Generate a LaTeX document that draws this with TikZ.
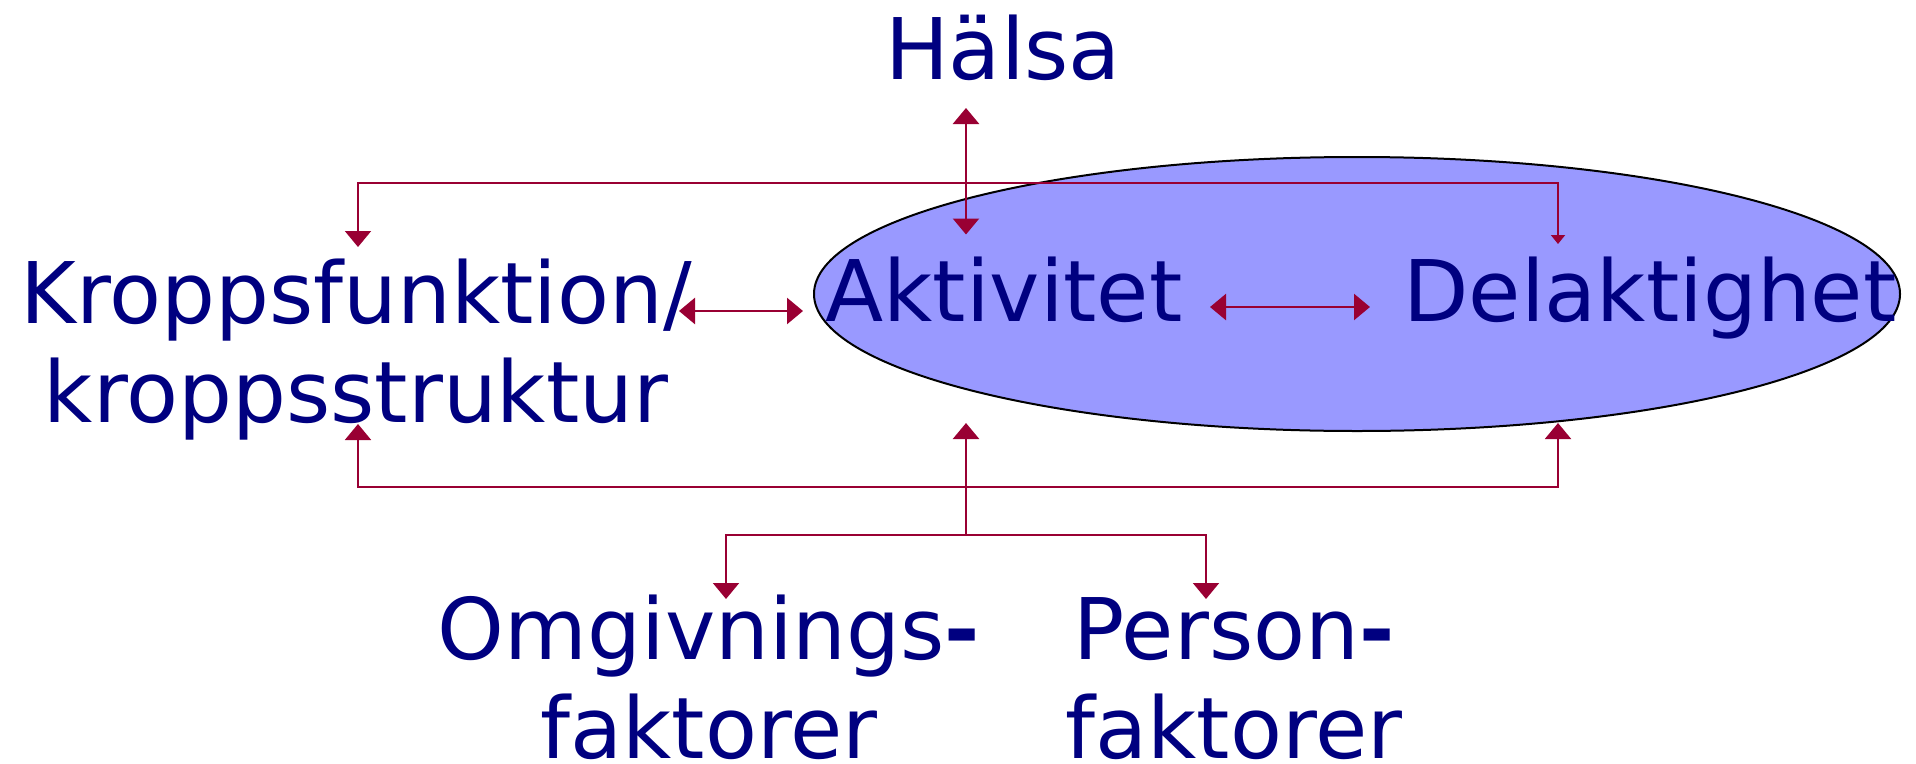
\documentclass[tikz,border=0pt]{standalone}
\usepackage{fontspec}
\setmainfont{DejaVu Sans}
\usetikzlibrary{shapes.geometric,arrows.meta}
\definecolor{navytxt}{RGB}{0,0,128}
\definecolor{linered}{RGB}{153,0,51}
\definecolor{ellfill}{RGB}{153,153,255}
\tikzset{
  bigtip/.tip={Triangle[length=16pt,width=26pt]},
  smalltip/.tip={Triangle[length=9pt,width=14pt]},
}
\begin{document}
\begin{tikzpicture}[x=1pt,y=-1pt,
  lbl/.style={font=\fontsize{85}{99}\selectfont, text=navytxt, inner sep=0pt, anchor=base, align=center},
  conn/.style={draw=linered, line width=2pt},
  dbl/.style={draw=linered, line width=2.6pt, bigtip-bigtip},
]
\useasboundingbox (0,0) rectangle (1916,763);
% ellipse
\node[ellipse, draw=black, line width=2pt, fill=ellfill, minimum width=1086pt, minimum height=274pt, inner sep=0pt] (ell) at (1357,294) {};
% labels (base anchor = baseline of the last line)
\node[lbl] (halsa) at (1003,79) {Hälsa};
\node[lbl] (akt) at (1004,321) {Aktivitet};
\node[lbl] (del) at (1650,321) {Delaktighet};
\node[lbl] (kropp) at (356,422) {Kroppsfunktion/\\kroppsstruktur};
\node[lbl] (omg) at (709,758) {Omgivnings{\bfseries -}\\faktorer};
\node[lbl] (pers) at (1234,758) {Person{\bfseries -}\\faktorer};
% connector points
\coordinate (hTop) at (966,108);
\coordinate (hBot) at (966,234.5);
\coordinate (tl) at (358,183);
\coordinate (tr) at (1558,183);
\coordinate (kTip) at (358,247);
\coordinate (dTip) at (1558,244);
\coordinate (bl) at (358,487);
\coordinate (br) at (1558,487);
\coordinate (kUp) at (358,424);
\coordinate (dUp) at (1558,423);
\coordinate (tMid) at (966,535);
\coordinate (aUp) at (966,423);
\coordinate (oL) at (726,535);
\coordinate (oR) at (1206,535);
\coordinate (oTip) at (726,599);
\coordinate (pTip) at (1206,599);
\coordinate (kaL) at (679,311);
\coordinate (kaR) at (803,311);
\coordinate (adL) at (1210,307);
\coordinate (adR) at (1370,307);
% connectors
\draw[dbl] (hTop) -- (hBot);
\draw[conn, bigtip-smalltip] (kTip) -- (tl) -- (tr) -- (dTip);
\draw[conn, bigtip-bigtip] (kUp) -- (bl) -- (br) -- (dUp);
\draw[conn, line width=2.6pt, -bigtip] (tMid) -- (aUp);
\draw[conn, bigtip-bigtip] (oTip) -- (oL) -- (oR) -- (pTip);
\draw[dbl] (kaL) -- (kaR);
\draw[dbl] (adL) -- (adR);
\end{tikzpicture}
\end{document}
